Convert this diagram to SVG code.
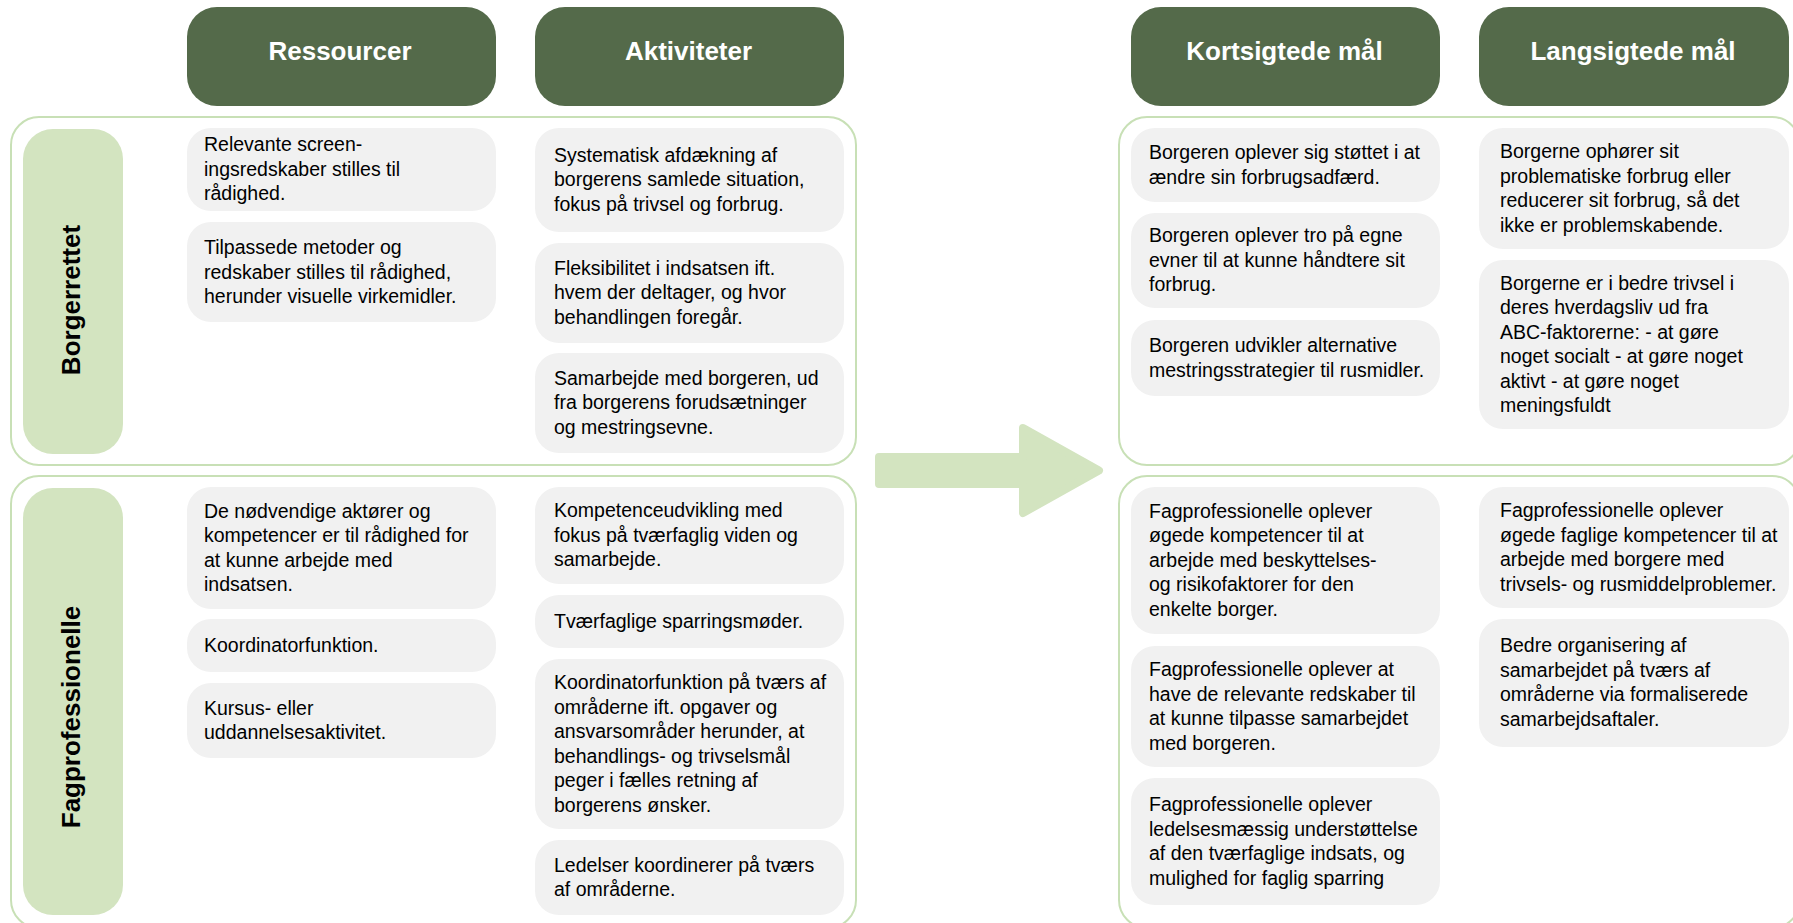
<svg xmlns="http://www.w3.org/2000/svg" width="1793" height="923" viewBox="0 0 1793 923">
  <style>
    .hdr { fill: #546a4a; }
    .hdr-t { font-family: "Liberation Sans", Arial, sans-serif; font-weight: bold; font-size: 26px; fill: #ffffff; text-anchor: middle; }
    .panel { fill: #ffffff; stroke: #c8e0b6; stroke-width: 2; }
    .side { fill: #d3e4c0; }
    .side-t { font-family: "Liberation Sans", Arial, sans-serif; font-weight: bold; font-size: 26px; fill: #000000; text-anchor: middle; }
    .card { fill: #f1f1f1; }
    .card-t { font-family: "Liberation Sans", Arial, sans-serif; font-size: 19.5px; fill: #000000; }
    .arrow { fill: #d3e4c0; stroke: #d3e4c0; stroke-width: 8; stroke-linejoin: round; }
  </style>

  <!-- row panels -->
  <g id="panels">
    <rect class="panel" x="11" y="117" width="845" height="348" rx="28"/>
    <rect class="panel" x="11" y="476" width="845" height="452" rx="28"/>
    <rect class="panel" x="1119" y="117" width="681" height="348" rx="28"/>
    <rect class="panel" x="1119" y="476" width="681" height="452" rx="28"/>
  </g>

  <!-- column headers -->
  <g id="hdr-ressourcer">
    <rect class="hdr" x="187" y="7" width="309" height="99" rx="30"/>
    <text class="hdr-t" x="340" y="59.5">Ressourcer</text>
  </g>
  <g id="hdr-aktiviteter">
    <rect class="hdr" x="535" y="7" width="309" height="99" rx="30"/>
    <text class="hdr-t" x="688.5" y="59.5">Aktiviteter</text>
  </g>
  <g id="hdr-kortsigtede">
    <rect class="hdr" x="1131" y="7" width="309" height="99" rx="30"/>
    <text class="hdr-t" x="1284.5" y="59.5">Kortsigtede mål</text>
  </g>
  <g id="hdr-langsigtede">
    <rect class="hdr" x="1479" y="7" width="310" height="99" rx="30"/>
    <text class="hdr-t" x="1633" y="59.5">Langsigtede mål</text>
  </g>

  <!-- row labels -->
  <g id="lbl-borgerrettet">
    <rect class="side" x="23" y="129" width="100" height="325" rx="30"/>
    <text class="side-t" transform="translate(79.5,300) rotate(-90)">Borgerrettet</text>
  </g>
  <g id="lbl-fagprofessionelle">
    <rect class="side" x="23" y="488" width="100" height="427" rx="30"/>
    <text class="side-t" transform="translate(79.5,717) rotate(-90)">Fagprofessionelle</text>
  </g>

  <!-- connector -->
  <g id="connectors">
    <path class="arrow" d="M879 457 L1023 457 L1023 428 L1099 470.5 L1023 513 L1023 484 L879 484 Z"/>
  </g>

  <!-- Borgerrettet: ressourcer -->
  <g id="r1">
    <rect class="card" x="187" y="128" width="309" height="83" rx="24"/>
    <text class="card-t"><tspan x="204" y="151">Relevante screen-</tspan><tspan x="204" y="175.5">ingsredskaber stilles til</tspan><tspan x="204" y="200">rådighed.</tspan></text>
  </g>
  <g id="r2">
    <rect class="card" x="187" y="222" width="309" height="100" rx="24"/>
    <text class="card-t"><tspan x="204" y="254">Tilpassede metoder og</tspan><tspan x="204" y="278.5">redskaber stilles til rådighed,</tspan><tspan x="204" y="302.5">herunder visuelle virkemidler.</tspan></text>
  </g>

  <!-- Borgerrettet: aktiviteter -->
  <g id="a1">
    <rect class="card" x="535" y="128" width="309" height="104" rx="24"/>
    <text class="card-t"><tspan x="554" y="161.5">Systematisk afdækning af</tspan><tspan x="554" y="186">borgerens samlede situation,</tspan><tspan x="554" y="210.5">fokus på trivsel og forbrug.</tspan></text>
  </g>
  <g id="a2">
    <rect class="card" x="535" y="243" width="309" height="100" rx="24"/>
    <text class="card-t"><tspan x="554" y="274.5">Fleksibilitet i indsatsen ift.</tspan><tspan x="554" y="299">hvem der deltager, og hvor</tspan><tspan x="554" y="323.5">behandlingen foregår.</tspan></text>
  </g>
  <g id="a3">
    <rect class="card" x="535" y="353" width="309" height="100" rx="24"/>
    <text class="card-t"><tspan x="554" y="384.5">Samarbejde med borgeren, ud</tspan><tspan x="554" y="409">fra borgerens forudsætninger</tspan><tspan x="554" y="433.5">og mestringsevne.</tspan></text>
  </g>

  <!-- Fagprofessionelle: ressourcer -->
  <g id="r3">
    <rect class="card" x="187" y="487" width="309" height="122" rx="24"/>
    <text class="card-t"><tspan x="204" y="517.5">De nødvendige aktører og</tspan><tspan x="204" y="542">kompetencer er til rådighed for</tspan><tspan x="204" y="566.5">at kunne arbejde med</tspan><tspan x="204" y="591">indsatsen.</tspan></text>
  </g>
  <g id="r4">
    <rect class="card" x="187" y="619" width="309" height="53" rx="24"/>
    <text class="card-t"><tspan x="204" y="651.5">Koordinatorfunktion.</tspan></text>
  </g>
  <g id="r5">
    <rect class="card" x="187" y="683" width="309" height="75" rx="24"/>
    <text class="card-t"><tspan x="204" y="714.5">Kursus- eller</tspan><tspan x="204" y="739">uddannelsesaktivitet.</tspan></text>
  </g>

  <!-- Fagprofessionelle: aktiviteter -->
  <g id="a4">
    <rect class="card" x="535" y="487" width="309" height="97" rx="24"/>
    <text class="card-t"><tspan x="554" y="517">Kompetenceudvikling med</tspan><tspan x="554" y="541.5">fokus på tværfaglig viden og</tspan><tspan x="554" y="566">samarbejde.</tspan></text>
  </g>
  <g id="a5">
    <rect class="card" x="535" y="595" width="309" height="53" rx="24"/>
    <text class="card-t"><tspan x="554" y="627.5">Tværfaglige sparringsmøder.</tspan></text>
  </g>
  <g id="a6">
    <rect class="card" x="535" y="659" width="309" height="170" rx="24"/>
    <text class="card-t"><tspan x="554" y="689">Koordinatorfunktion på tværs af</tspan><tspan x="554" y="713.5">områderne ift. opgaver og</tspan><tspan x="554" y="738">ansvarsområder herunder, at</tspan><tspan x="554" y="762.5">behandlings- og trivselsmål</tspan><tspan x="554" y="787">peger i fælles retning af</tspan><tspan x="554" y="811.5">borgerens ønsker.</tspan></text>
  </g>
  <g id="a7">
    <rect class="card" x="535" y="840" width="309" height="75" rx="24"/>
    <text class="card-t"><tspan x="554" y="871.5">Ledelser koordinerer på tværs</tspan><tspan x="554" y="896">af områderne.</tspan></text>
  </g>

  <!-- Borgerrettet: kortsigtede mål -->
  <g id="k1">
    <rect class="card" x="1131" y="128" width="309" height="74" rx="24"/>
    <text class="card-t"><tspan x="1149" y="159">Borgeren oplever sig støttet i at</tspan><tspan x="1149" y="183.5">ændre sin forbrugsadfærd.</tspan></text>
  </g>
  <g id="k2">
    <rect class="card" x="1131" y="213" width="309" height="95" rx="24"/>
    <text class="card-t"><tspan x="1149" y="242">Borgeren oplever tro på egne</tspan><tspan x="1149" y="266.5">evner til at kunne håndtere sit</tspan><tspan x="1149" y="291">forbrug.</tspan></text>
  </g>
  <g id="k3">
    <rect class="card" x="1131" y="320" width="309" height="76" rx="24"/>
    <text class="card-t"><tspan x="1149" y="352">Borgeren udvikler alternative</tspan><tspan x="1149" y="376.5">mestringsstrategier til rusmidler.</tspan></text>
  </g>

  <!-- Borgerrettet: langsigtede mål -->
  <g id="l1">
    <rect class="card" x="1479" y="128" width="310" height="121" rx="24"/>
    <text class="card-t"><tspan x="1500" y="158">Borgerne ophører sit</tspan><tspan x="1500" y="182.5">problematiske forbrug eller</tspan><tspan x="1500" y="207">reducerer sit forbrug, så det</tspan><tspan x="1500" y="231.5">ikke er problemskabende.</tspan></text>
  </g>
  <g id="l2">
    <rect class="card" x="1479" y="260" width="310" height="169" rx="24"/>
    <text class="card-t"><tspan x="1500" y="289.5">Borgerne er i bedre trivsel i</tspan><tspan x="1500" y="314">deres hverdagsliv ud fra</tspan><tspan x="1500" y="338.5">ABC-faktorerne: - at gøre</tspan><tspan x="1500" y="363">noget socialt - at gøre noget</tspan><tspan x="1500" y="387.5">aktivt - at gøre noget</tspan><tspan x="1500" y="412">meningsfuldt</tspan></text>
  </g>

  <!-- Fagprofessionelle: kortsigtede mål -->
  <g id="k4">
    <rect class="card" x="1131" y="487" width="309" height="147" rx="24"/>
    <text class="card-t"><tspan x="1149" y="517.5">Fagprofessionelle oplever</tspan><tspan x="1149" y="542">øgede kompetencer til at</tspan><tspan x="1149" y="566.5">arbejde med beskyttelses-</tspan><tspan x="1149" y="591">og risikofaktorer for den</tspan><tspan x="1149" y="615.5">enkelte borger.</tspan></text>
  </g>
  <g id="k5">
    <rect class="card" x="1131" y="646" width="309" height="121" rx="24"/>
    <text class="card-t"><tspan x="1149" y="676">Fagprofessionelle oplever at</tspan><tspan x="1149" y="700.5">have de relevante redskaber til</tspan><tspan x="1149" y="725">at kunne tilpasse samarbejdet</tspan><tspan x="1149" y="749.5">med borgeren.</tspan></text>
  </g>
  <g id="k6">
    <rect class="card" x="1131" y="778" width="309" height="127" rx="24"/>
    <text class="card-t"><tspan x="1149" y="811">Fagprofessionelle oplever</tspan><tspan x="1149" y="835.5">ledelsesmæssig understøttelse</tspan><tspan x="1149" y="860">af den tværfaglige indsats, og</tspan><tspan x="1149" y="884.5">mulighed for faglig sparring</tspan></text>
  </g>

  <!-- Fagprofessionelle: langsigtede mål -->
  <g id="l3">
    <rect class="card" x="1479" y="487" width="310" height="121" rx="24"/>
    <text class="card-t"><tspan x="1500" y="517">Fagprofessionelle oplever</tspan><tspan x="1500" y="541.5">øgede faglige kompetencer til at</tspan><tspan x="1500" y="566">arbejde med borgere med</tspan><tspan x="1500" y="590.5">trivsels- og rusmiddelproblemer.</tspan></text>
  </g>
  <g id="l4">
    <rect class="card" x="1479" y="619" width="310" height="128" rx="24"/>
    <text class="card-t"><tspan x="1500" y="652">Bedre organisering af</tspan><tspan x="1500" y="676.5">samarbejdet på tværs af</tspan><tspan x="1500" y="701">områderne via formaliserede</tspan><tspan x="1500" y="725.5">samarbejdsaftaler.</tspan></text>
  </g>
</svg>
